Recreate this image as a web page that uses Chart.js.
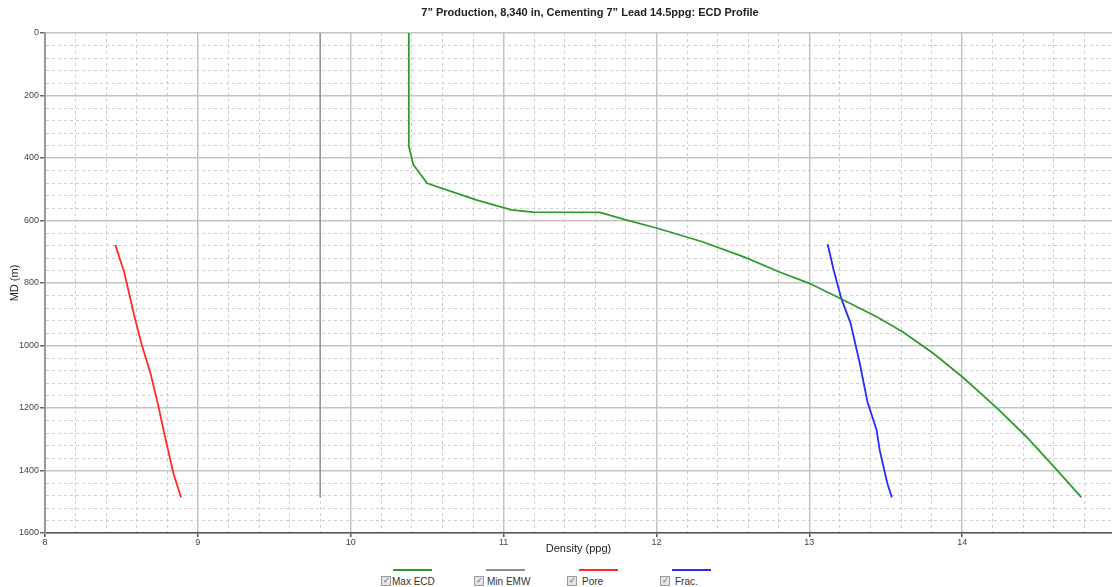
<!DOCTYPE html>
<html>
<head>
<meta charset="utf-8">
<script src="https://cdn.jsdelivr.net/npm/chart.js@4"></script>
<style>
  body { margin: 0; background: #fff; font-family: "Liberation Sans", Arial, sans-serif; }
  #wrap { position: relative; width: 1112px; height: 587px; }
  #titel { position: absolute; top: 6px; left: 0; width: 1180px; text-align: center;
           font-weight: bold; font-size: 11px; color: #222; }
  #grafiekBox { position: absolute; top: 0; left: 0; width: 1112px; height: 556px; }
  .item { position: absolute; top: 565px; font-size: 10px; color: #333; }
  .item .lijn { position: absolute; left: 12px; top: 4px; width: 39px; height: 2px; }
  .item .vak { position: absolute; left: 0; top: 11px; width: 8px; height: 8px; border: 1px solid #9a9a9a;
               background: #e4e4e4; font-size: 8px; line-height: 8px; text-align: center; color: #4a5a9a; }
  .item .tekst { position: absolute; top: 11px; white-space: nowrap; }
</style>
</head>
<body>
<div id="wrap">
  <div id="grafiekBox"><canvas id="ecdGrafiek"></canvas></div>
  <div id="titel">7” Production, 8,340 in, Cementing 7” Lead 14.5ppg: ECD Profile</div>
  <div id="legende"></div>
</div>
<script>
// Max ECD (ppg) tegen diepte (m)
const ecdDensity = [10.38, 10.38, 10.41, 10.50, 10.82, 11.05, 11.19, 11.63, 11.80, 12.00, 12.30, 12.58, 12.80, 13.00, 13.21, 13.44, 13.61, 13.81, 14.00, 14.23, 14.42, 14.61, 14.78];
const ecdDepth   = [0,     362,   422,   481,   534,   566,   573,   574,   598,   624,   668,   718,   764,   801,   851,   908,   956,   1025,  1100,  1201,  1292,  1393,  1486];

// Min EMW: verticale lijn
const emwDensity = [9.80, 9.80];
const emwDepth   = [0, 1486];

// Poriedruk
const poreDensity = [8.46, 8.52, 8.58, 8.63, 8.69, 8.74, 8.78, 8.84, 8.89];
const poreDepth   = [678,  769,  897,  993,  1089, 1190, 1281, 1409, 1486];

// Fractuurdruk
const fracDensity = [13.12, 13.16, 13.21, 13.27, 13.33, 13.38, 13.44, 13.46, 13.51, 13.54];
const fracDepth   = [676,   760,   851,   929,   1057,  1180,  1270,  1334,  1441,  1486];

const reeksen = [
  { label: "Max ECD", x: ecdDensity, y: ecdDepth, kleur: "#2f9b2f", dik: 1.8 },
  { label: "Min EMW", x: emwDensity, y: emwDepth, kleur: "#8f8f8f", dik: 1.5 },
  { label: "Pore", x: poreDensity, y: poreDepth, kleur: "#ff2b2b", dik: 1.8 },
  { label: "Frac.", x: fracDensity, y: fracDepth, kleur: "#2b2bff", dik: 1.8 }
];

const isMajor = (v, stap) => Math.abs(v / stap - Math.round(v / stap)) < 1e-6;

const ctx = document.getElementById('ecdGrafiek').getContext('2d');
new Chart(ctx, {
  type: 'line',
  data: {
    datasets: reeksen.map(r => ({
      label: r.label,
      data: r.x.map((v, i) => ({ x: v, y: r.y[i] })),
      borderColor: r.kleur,
      borderWidth: r.dik,
      pointRadius: 0,
      fill: false,
      tension: 0
    }))
  },
  options: {
    responsive: true,
    maintainAspectRatio: false,
    animation: false,
    layout: { padding: { top: 33, right: 0, left: 0, bottom: 0 } },
    plugins: { legend: { display: false }, title: { display: false }, tooltip: { enabled: false } },
    scales: {
      x: {
        type: 'linear',
        min: 8,
        max: 14.98,
        afterFit: s => { s.height = 23; },
        ticks: {
          stepSize: 0.2,
          includeBounds: false,
          autoSkip: false,
          maxRotation: 0,
          padding: 0,
          color: '#444',
          font: { size: 9, family: 'Liberation Sans' },
          callback: v => isMajor(v, 1) ? Math.round(v) : ''
        },
        grid: {
          color: c => isMajor(c.tick.value, 1) ? '#c4c4c4' : '#cfcfcf',
          lineWidth: c => isMajor(c.tick.value, 1) ? 1.5 : 1,
          tickColor: c => isMajor(c.tick.value, 1) ? '#555' : 'rgba(0,0,0,0)',
          tickLength: 4
        },
        border: { color: '#555', width: 1.5, dash: c => isMajor(c.tick.value, 1) ? [] : [3, 3] },
        title: { display: true, text: 'Density (ppg)', color: '#222', padding: { top: 0, bottom: 0 },
                 font: { size: 11, family: 'Liberation Sans' } }
      },
      y: {
        type: 'linear',
        reverse: true,
        min: 0,
        max: 1600,
        afterFit: s => { s.width = 45; },
        ticks: {
          stepSize: 40,
          autoSkip: false,
          padding: 1,
          color: '#444',
          font: { size: 9, family: 'Liberation Sans' },
          callback: v => isMajor(v, 200) ? v : ''
        },
        grid: {
          color: c => isMajor(c.tick.value, 200) ? '#c4c4c4' : '#cfcfcf',
          lineWidth: c => isMajor(c.tick.value, 200) ? 1.5 : 1,
          tickColor: c => isMajor(c.tick.value, 200) ? '#666' : 'rgba(0,0,0,0)',
          tickLength: 5
        },
        border: { color: '#999', width: 2, dash: c => isMajor(c.tick.value, 200) ? [] : [3, 3] },
        title: { display: true, text: 'MD (m)', color: '#222', padding: { top: 8, bottom: 0 },
                 font: { size: 11, family: 'Liberation Sans' } }
      }
    }
  }
});

// legende onderaan, zelfde kleuren als de lijnen
const legende = document.getElementById('legende');
const startX = [381, 474, 567, 660];
const tekstX = [11, 13, 15, 15];
reeksen.forEach((r, i) => {
  const el = document.createElement('div');
  el.className = 'item';
  el.style.left = startX[i] + 'px';
  el.innerHTML = '<div class="lijn" style="background:' + r.kleur + '"></div>' +
                 '<div class="vak">✓</div>' +
                 '<div class="tekst" style="left:' + tekstX[i] + 'px">' + r.label + '</div>';
  legende.appendChild(el);
});
</script>
</body>
</html>
